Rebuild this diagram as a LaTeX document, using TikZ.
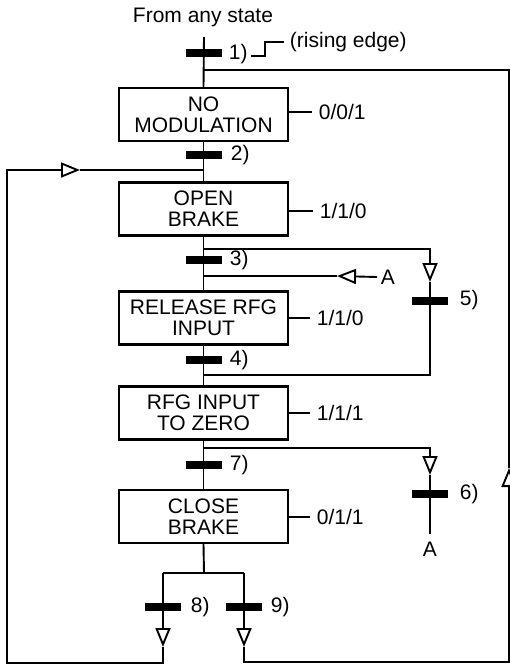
\documentclass[tikz,border=0pt]{standalone}
\usepackage{fontspec}
\setmainfont{Liberation Sans}
\usetikzlibrary{arrows.meta}
\begin{document}
\begin{tikzpicture}[x=1pt,y=-1pt,
  font=\fontsize{21}{21}\selectfont,
  line width=1.9pt,
  state/.style={draw, line width=2.3pt, minimum width=169pt, minimum height=53pt, inner sep=0pt, align=center, fill=white},
  bar/.style={fill=black, minimum width=34pt, minimum height=6pt, inner sep=0pt},
  lbl/.style={anchor=west, inner sep=0pt},
  outlbl/.style={anchor=west, inner xsep=6pt, inner ysep=0pt},
  tri/.style={-{Triangle[open, length=19pt, width=15pt, fill=white, line width=1.9pt]}},
]
\useasboundingbox (0,0) rectangle (510,665);
\clip (0,0) rectangle (510,665);

% title
\node[anchor=base] (from) at (203,22) {From any state};

% states
\node[state] (s1) at (203.5,114.5) {NO\\MODULATION};
\node[state] (s2) at (203.5,209) {OPEN\\BRAKE};
\node[state] (s3) at (203.5,318) {RELEASE RFG\\INPUT};
\node[state] (s4) at (203.5,413) {RFG INPUT\\TO ZERO};
\node[state] (s5) at (203.5,516.5) {CLOSE\\BRAKE};

% coordinates
\coordinate (top) at (204,37);
\coordinate (j1) at (204,70);
\coordinate (c1) at (509,70);
\coordinate (j2) at (204,170);
\coordinate (ltip) at (80,170);
\coordinate (lc1) at (7,170);
\coordinate (lc2) at (7,663);
\coordinate (lc3) at (163,663);
\coordinate (j3a) at (204,249);
\coordinate (c5a) at (430,249);
\coordinate (a5) at (430,282);
\coordinate (c5b) at (430,375);
\coordinate (j3b) at (204,276);
\coordinate (atip) at (337,276);
\coordinate (j4) at (204,375);
\coordinate (j7a) at (204,448);
\coordinate (c6a) at (430,448);
\coordinate (a6) at (430,475);
\coordinate (c6b) at (430,534);
\coordinate (j8) at (204,573);
\coordinate (c8) at (163,573);
\coordinate (c9) at (244,573);
\coordinate (a8) at (163,647);
\coordinate (a9) at (244,647);
\coordinate (rc1) at (244,662);
\coordinate (rc2) at (509,662);
\coordinate (rtip) at (509,468);

% main line
\draw (top) -- (s1.north);
\draw (s1.south) -- (s2.north);
\draw (s2.south) -- (s3.north);
\draw (s3.south) -- (s4.north);
\draw (s4.south) -- (s5.north);
\draw (s5.south) -- (j8);

% bars
\node[bar] (t1) at (204,53) {};
\node[bar] (t2) at (204,155) {};
\node[bar] (t3) at (204,260) {};
\node[bar] (t4) at (204,360) {};
\node[bar] (t7) at (204,465) {};
\node[bar] (t5) at (430,301) {};
\node[bar] (t6) at (430,494) {};
\node[bar] (t8) at (163,607) {};
\node[bar] (t9) at (244,607) {};

% bar labels
\node[lbl] (l1) at (228,54) {1)};
\node[lbl] (l2) at (230,155) {2)};
\node[lbl] (l3) at (229,260) {3)};
\node[lbl] (l4) at (229,360) {4)};
\node[lbl] (l7) at (229,465) {7)};
\node[lbl] (l5) at (459,300) {5)};
\node[lbl] (l6) at (459,494) {6)};
\node[lbl] (l8) at (190,607) {8)};
\node[lbl] (l9) at (270,607) {9)};

% rising edge
\coordinate (re1) at (251,56);
\coordinate (re2) at (265,56);
\coordinate (re3) at (265,42);
\coordinate (re4) at (284,42);
\draw (re1) -- (re2) -- (re3) -- (re4);
\node[lbl] (rise) at (289,42) {(rising edge)};

% outputs
\node[outlbl] (o1) at (312,112) {0/0/1};
\node[outlbl] (o2) at (313,211) {1/1/0};
\node[outlbl] (o3) at (310,318) {1/1/0};
\node[outlbl] (o4) at (310,413) {1/1/1};
\node[outlbl] (o5) at (310,517) {0/1/1};
\draw (s1.east |- o1) -- (o1.west);
\draw (s2.east |- o2) -- (o2.west);
\draw (s3.east |- o3) -- (o3.west);
\draw (s4.east |- o4) -- (o4.west);
\draw (s5.east |- o5) -- (o5.west);

% branch 5
\draw[tri] (j3a) -- (c5a) -- (a5);
\draw (a5) -- (t5) -- (c5b) -- (j4);

% A input
\node[inner sep=3pt] (A1) at (388,277) {A};
\draw[tri] (A1.west) -- (atip);
\draw (atip) -- (j3b);

% branch 6
\draw[tri] (j7a) -- (c6a) -- (a6);
\draw (a6) -- (t6) -- (c6b);
\node (A2) at (430,549) {A};

% branches 8 and 9
\draw (c8) -- (c9);
\draw[tri] (c8) -- (t8) -- (a8);
\draw[tri] (c9) -- (t9) -- (a9);

% loop back from 8
\draw[tri] (a8) -- (lc3) -- (lc2) -- (lc1) -- (ltip);
\draw (ltip) -- (j2);

% loop back from 9
\draw[tri] (a9) -- (rc1) -- (rc2) -- (rtip);
\draw (rtip) -- (c1) -- (j1);

% redraw bars on top
\foreach \b in {t1,t2,t3,t4,t5,t6,t7,t8,t9} {\fill (\b.north west) rectangle (\b.south east);}
\end{tikzpicture}
\end{document}
